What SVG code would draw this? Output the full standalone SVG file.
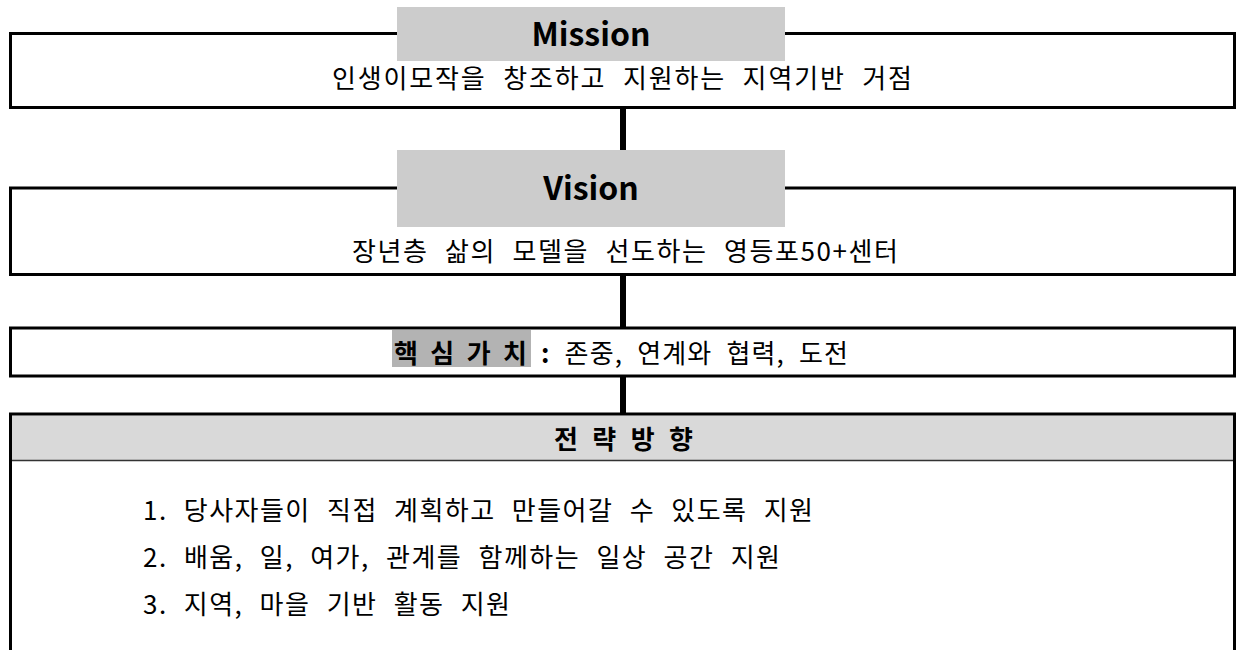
<svg xmlns="http://www.w3.org/2000/svg" width="1236" height="650" viewBox="0 0 1236 650">
<style>
.box{fill:#ffffff;stroke:#000000;stroke-width:3}
.lbl{fill:#cccccc}
.title{font-family:"Noto Sans CJK KR","Noto Sans",sans-serif;font-weight:bold;font-size:32px;fill:#000;text-anchor:middle}
.body{font-family:"Noto Sans CJK KR",sans-serif;font-size:26px;word-spacing:9px;fill:#000}
.bold{font-weight:bold}
.conn{fill:#000}
</style>
<rect width="1236" height="650" fill="#ffffff"/>
<g id="connectors">
<rect class="conn" x="620" y="107" width="6" height="44"/>
<rect class="conn" x="620" y="275" width="6" height="54"/>
<rect class="conn" x="620" y="376" width="6" height="39"/>
</g>
<g id="mission">
<rect class="box" x="10.5" y="33.5" width="1224" height="74"/>
<rect class="lbl" x="397" y="7" width="388" height="54"/>
<text class="title" x="591" y="46">Mission</text>
<text class="body" x="332" y="88" textLength="580" lengthAdjust="spacing">인생이모작을 창조하고 지원하는 지역기반 거점</text>
</g>
<g id="vision">
<rect class="box" x="10.5" y="188" width="1224" height="86.5"/>
<rect class="lbl" x="397" y="150" width="388" height="77"/>
<text class="title" x="591" y="200">Vision</text>
<text class="body" x="352" y="261" textLength="546" lengthAdjust="spacing">장년층 삶의 모델을 선도하는 영등포50+센터</text>
</g>
<g id="core-values">
<rect class="box" x="10.5" y="328" width="1224" height="48"/>
<rect x="392" y="330" width="139" height="37" fill="#b3b3b3"/>
<text class="body bold" x="394" y="363" textLength="133" lengthAdjust="spacing" style="word-spacing:4px">핵 심 가 치</text>
<text class="body" x="541" y="363" textLength="307" lengthAdjust="spacing" style="word-spacing:7px"><tspan class="bold">:</tspan> 존중, 연계와 협력, 도전</text>
</g>
<g id="strategy">
<rect x="11.5" y="415.5" width="1222" height="45" fill="#d9d9d9"/>
<line x1="11.5" y1="460.5" x2="1233" y2="460.5" stroke="#333333" stroke-width="1.5"/>
<path d="M10.5,652 V414 H1234.5 V652" fill="none" stroke="#000000" stroke-width="3"/>
<text class="body bold" x="554" y="449" textLength="139" lengthAdjust="spacing" style="word-spacing:6px">전 략 방 향</text>
<text class="body" x="143" y="520" textLength="670" lengthAdjust="spacing">1. 당사자들이 직접 계획하고 만들어갈 수 있도록 지원</text>
<text class="body" x="143" y="567" textLength="637" lengthAdjust="spacing">2. 배움, 일, 여가, 관계를 함께하는 일상 공간 지원</text>
<text class="body" x="143" y="614" textLength="367" lengthAdjust="spacing">3. 지역, 마을 기반 활동 지원</text>
</g>
</svg>
